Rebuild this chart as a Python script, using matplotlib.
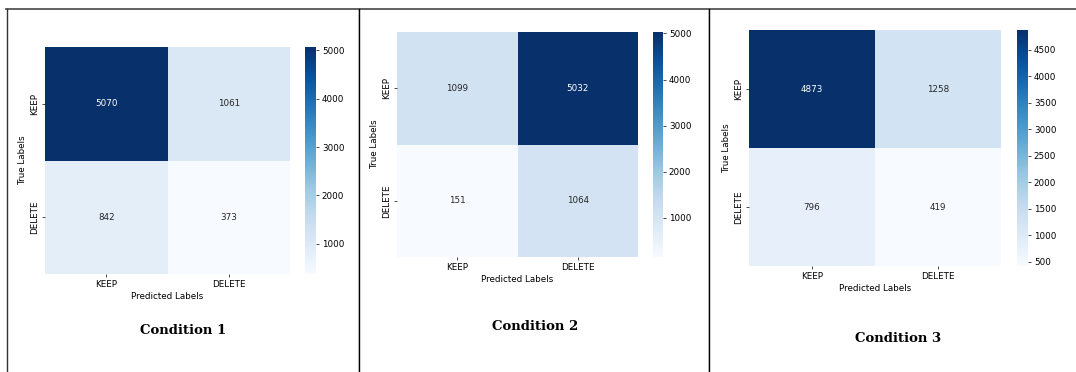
import matplotlib
matplotlib.use("Agg")
import matplotlib.pyplot as plt
from matplotlib.lines import Line2D
import numpy as np
import seaborn as sns

labels = ["KEEP", "DELETE"]

cond1 = [[5070, 1061],
         [842, 373]]
cond2 = [[1099, 5032],
         [151, 1064]]
cond3 = [[4873, 1258],
         [796, 419]]

titles = ["Condition 1", "Condition 2", "Condition 3"]
cbar_ticks1 = [1000, 2000, 3000, 4000, 5000]
cbar_ticks2 = [1000, 2000, 3000, 4000, 5000]
cbar_ticks3 = [500, 1000, 1500, 2000, 2500, 3000, 3500, 4000, 4500]

W, H = 1076, 372
fig = plt.figure(figsize=(W / 100, H / 100), dpi=100)
fig.patch.set_facecolor("white")


def box(x0, y0, x1, y1):
    # pixel box (top-left origin) -> figure fraction rect
    return [x0 / W, 1 - y1 / H, (x1 - x0) / W, (y1 - y0) / H]


fs = 6.3
panels = [
    (cond1, cbar_ticks1, (45, 47, 290, 274), (305, 47, 316, 274), (183, 330)),
    (cond2, cbar_ticks2, (397, 32, 638, 257), (653, 32, 663, 257), (535, 327)),
    (cond3, cbar_ticks3, (749, 30, 1001, 266), (1017, 30, 1028, 266), (898, 338)),
]

for (cm, ticks, hbox, cbox, tpos), title in zip(panels, titles):
    ax = fig.add_axes(box(*hbox))
    cax = fig.add_axes(box(*cbox))
    sns.heatmap(np.array(cm), annot=True, fmt="d", cmap="Blues", ax=ax, cbar_ax=cax,
                xticklabels=labels, yticklabels=labels,
                annot_kws={"fontsize": fs})
    ax.set_xlabel("Predicted Labels", fontsize=fs, labelpad=2.5)
    ax.set_ylabel("True Labels", fontsize=fs, labelpad=2.5)
    ax.tick_params(labelsize=fs, length=2.2, width=0.5, pad=2)
    plt.setp(ax.get_yticklabels(), rotation=90, va="center")
    cax.set_yticks(ticks)
    cax.tick_params(labelsize=fs, length=2.2, width=0.5, pad=2)
    fig.text(tpos[0] / W, 1 - tpos[1] / H, title, ha="center", va="center",
             fontsize=9.5, fontweight="bold", family="DejaVu Serif")

# frame lines around the panels
def hline(y, x0, x1, **kw):
    fig.add_artist(Line2D([x0 / W, x1 / W], [1 - y / H, 1 - y / H],
                          transform=fig.transFigure, **kw))


def vline(x, y0, y1, **kw):
    fig.add_artist(Line2D([x / W, x / W], [1 - y0 / H, 1 - y1 / H],
                          transform=fig.transFigure, **kw))


hline(9, 6, W, color="#555555", linewidth=1.3)
vline(7, 9, H, color="#333333", linewidth=1.0)
for x in (359, 709):
    vline(x - 1, 10, H, color="#dddddd", linewidth=0.8)
    vline(x, 9, H, color="black", linewidth=1.0)

fig.savefig("out.png", dpi=100)
